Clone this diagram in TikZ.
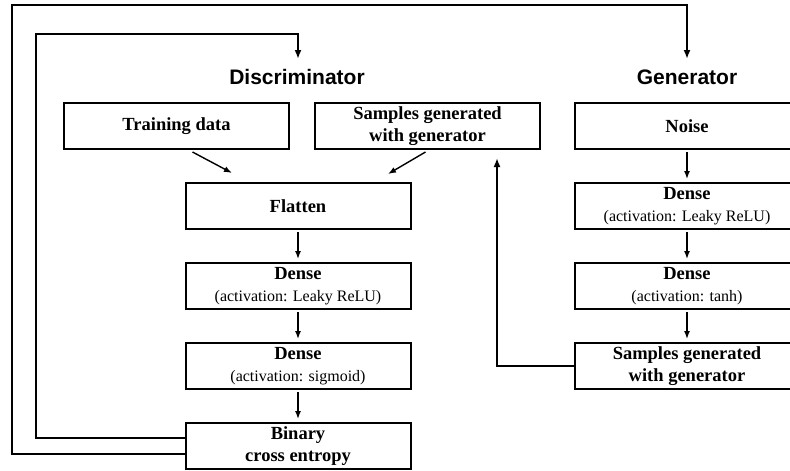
\documentclass[tikz,border=0pt]{standalone}
\usepackage{fontspec}
\setmainfont{Liberation Serif}
\newfontfamily\titlefont{Liberation Sans}
\usetikzlibrary{arrows.meta,positioning,calc}
\newcommand{\act}[1]{\\{\fontsize{16}{20}\selectfont\mdseries(activation: #1)}}
\tikzset{
  ganbox/.style={draw, line width=2pt, minimum width=225pt, minimum height=46pt, align=center, inner sep=0pt, font=\fontsize{18.5}{22}\selectfont\bfseries},
  gantitle/.style={font=\titlefont\bfseries\fontsize{21}{25}\selectfont},
  ganarrow/.style={-{Latex[length=8pt,width=6pt]}, line width=1.4pt},
  ganloop/.style={-{Latex[length=9pt,width=7pt]}, line width=2pt}
}
\begin{document}
\begin{tikzpicture}[x=1pt, y=-1pt]
\useasboundingbox (0,0) rectangle (790,471);
\clip (0,0) rectangle (790,471);
% discriminator column
\node[gantitle] (dtitle) at (297,77) {Discriminator};
\node[ganbox] (td) at (176.5,126) {Training data};
\node[ganbox] (sd) at (427.5,126) {Samples generated\\with generator};
\node[ganbox] (flat) at (298,206) {Flatten};
\node[ganbox, below=32pt of flat] (dd1) {Dense\act{Leaky ReLU}};
\node[ganbox, below=32pt of dd1] (dd2) {Dense\act{sigmoid}};
\node[ganbox, below=32pt of dd2] (bce) {Binary\\cross entropy};

% generator column
\node[gantitle] (gtitle) at (687,77) {Generator};
\node[ganbox] (noise) at (687,126) {Noise};
\node[ganbox, below=32pt of noise] (gd1) {Dense\act{Leaky ReLU}};
\node[ganbox, below=32pt of gd1] (gd2) {Dense\act{tanh}};
\node[ganbox, below=32pt of gd2] (gs) {Samples generated\\with generator};

% straight arrows
\foreach \a/\b in {flat/dd1, dd1/dd2, dd2/bce, noise/gd1, gd1/gd2, gd2/gs}
  \draw[ganarrow, shorten <=2pt, shorten >=3pt] (\a) -- (\b);
\draw[ganarrow] ($(td.south)+(16,2)$) -- ($(flat.north)+(-66,-9)$);
\draw[ganarrow] ($(sd.south)+(-2,2)$) -- ($(flat.north)+(90,-8)$);

% feedback loops
\coordinate (outercorner) at (12,5);
\coordinate (gin) at (687,59);
\coordinate (innercorner) at (36,34);
\coordinate (din) at (298,59);
\draw[ganloop] ($(bce.west)+(0,8)$) -| (outercorner) -| (gin);
\draw[ganloop] ($(bce.west)+(0,-8)$) -| (innercorner) -| (din);
\draw[ganloop] (gs.west) -| ($(sd.south east)+(-44,8)$);
\end{tikzpicture}
\end{document}
